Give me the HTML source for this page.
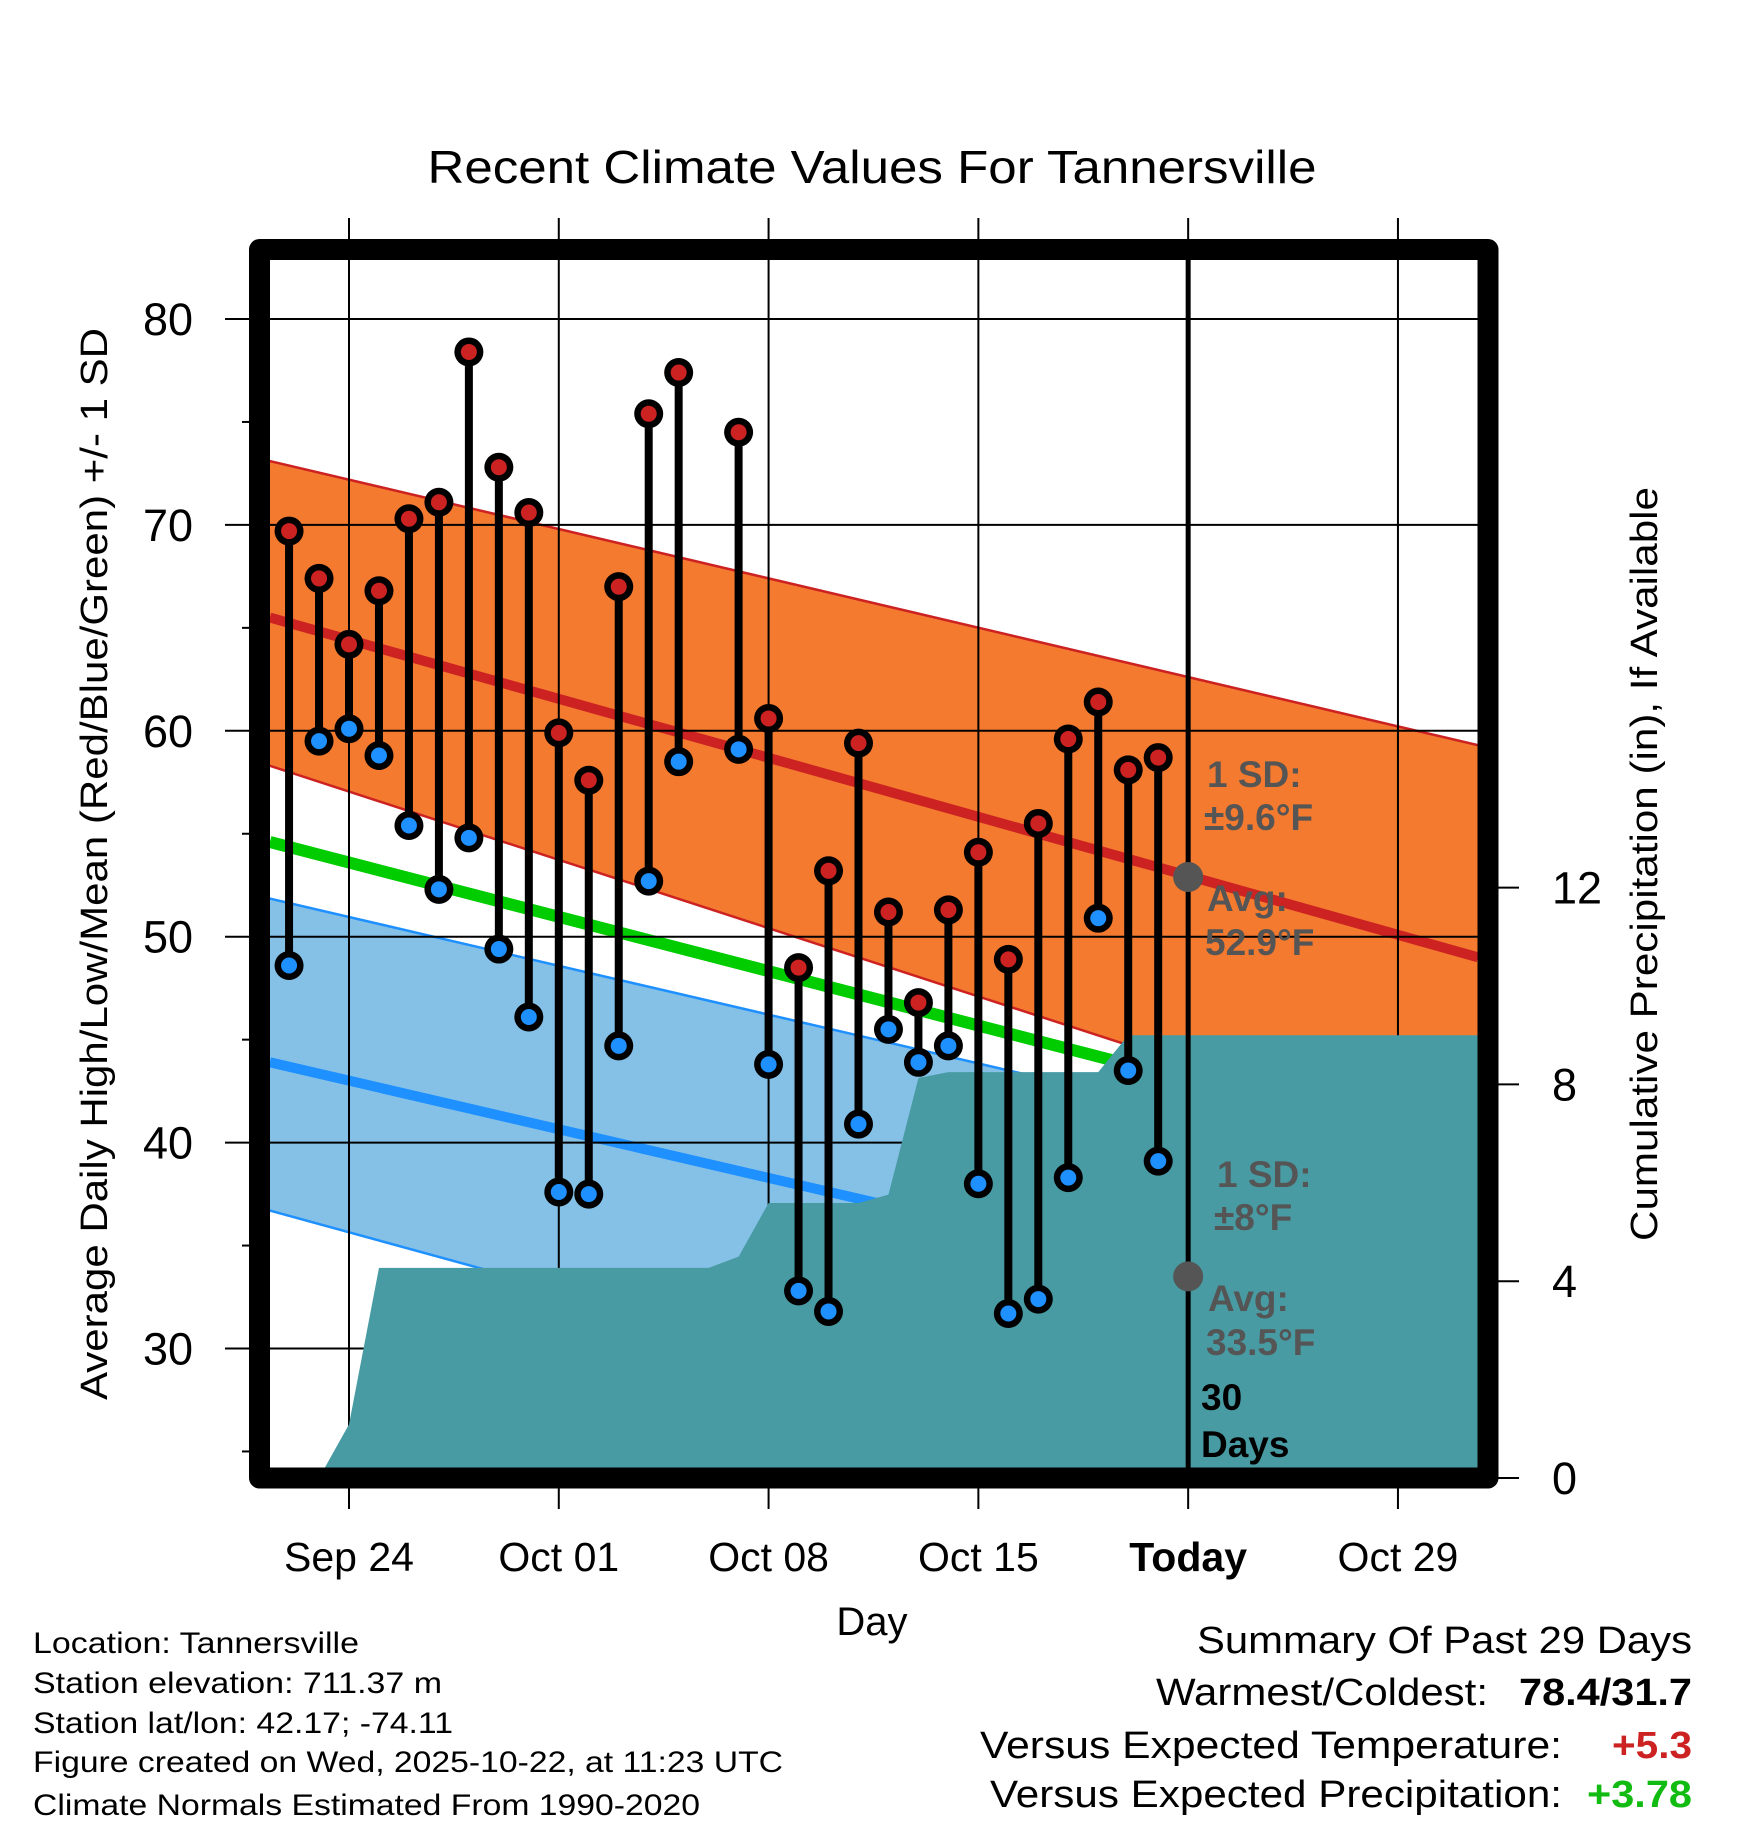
<!DOCTYPE html>
<html><head><meta charset="utf-8"><style>
html,body{margin:0;padding:0;background:#fff;}
svg{display:block;font-family:"Liberation Sans",Arial,sans-serif;}
</style></head><body>
<svg id="chart" width="1748" height="1828" viewBox="0 0 1748 1828" xmlns="http://www.w3.org/2000/svg">
<defs><clipPath id="plotclip"><rect x="270" y="260" width="1208" height="1208"/></clipPath></defs>
<g id="bands" clip-path="url(#plotclip)"></g>
<g id="grid"></g>
<g id="precip" clip-path="url(#plotclip)"></g>
<g id="marks"></g>
<rect x="259.5" y="249.5" width="1228.5" height="1228.5" fill="none" stroke="#000" stroke-width="21" stroke-linejoin="round"/>
<g id="labels"></g>
<text x="872" y="183" font-size="46" text-anchor="middle" textLength="889" lengthAdjust="spacingAndGlyphs">Recent Climate Values For Tannersville</text>
<text x="872" y="1635" font-size="40" text-anchor="middle">Day</text>
<text transform="translate(107,864) rotate(-90)" font-size="38" text-anchor="middle" textLength="1072" lengthAdjust="spacingAndGlyphs">Average Daily High/Low/Mean (Red/Blue/Green) +/- 1 SD</text>
<text transform="translate(1657,864) rotate(-90)" font-size="38" text-anchor="middle" textLength="754" lengthAdjust="spacingAndGlyphs">Cumulative Precipitation (in), If Available</text>
<g font-weight="bold" font-size="37" fill="#555">
<text x="1207" y="787">1 SD:</text><text x="1204" y="830">±9.6°F</text>
<text x="1207" y="911">Avg:</text><text x="1205" y="955">52.9°F</text></g>
<g font-weight="bold" font-size="37" fill="#555">
<text x="1217" y="1187">1 SD:</text><text x="1214" y="1230">±8°F</text>
<text x="1208" y="1311">Avg:</text><text x="1206" y="1355">33.5°F</text></g>
<g font-weight="bold" font-size="37" fill="#000">
<text x="1201" y="1410">30</text><text x="1201" y="1457">Days</text></g>
<g font-size="30" fill="#000">
<text x="33" y="1653" textLength="326" lengthAdjust="spacingAndGlyphs">Location: Tannersville</text>
<text x="33" y="1693" textLength="409" lengthAdjust="spacingAndGlyphs">Station elevation: 711.37 m</text>
<text x="33" y="1733" textLength="420" lengthAdjust="spacingAndGlyphs">Station lat/lon: 42.17; -74.11</text>
<text x="33" y="1772" textLength="750" lengthAdjust="spacingAndGlyphs">Figure created on Wed, 2025-10-22, at 11:23 UTC</text>
<text x="33" y="1815" textLength="667" lengthAdjust="spacingAndGlyphs">Climate Normals Estimated From 1990-2020</text></g>
<g font-size="38" fill="#000">
<text x="1692" y="1653" text-anchor="end" textLength="495" lengthAdjust="spacingAndGlyphs">Summary Of Past 29 Days</text>
<text x="1488" y="1705" text-anchor="end" textLength="332" lengthAdjust="spacingAndGlyphs">Warmest/Coldest:</text>
<text x="1692" y="1705" text-anchor="end" font-weight="bold" textLength="173" lengthAdjust="spacingAndGlyphs">78.4/31.7</text>
<text x="1562" y="1758" text-anchor="end" textLength="582" lengthAdjust="spacingAndGlyphs">Versus Expected Temperature:</text>
<text x="1692" y="1758" text-anchor="end" font-weight="bold" fill="#cc2222" textLength="80" lengthAdjust="spacingAndGlyphs">+5.3</text>
<text x="1562" y="1807" text-anchor="end" textLength="572" lengthAdjust="spacingAndGlyphs">Versus Expected Precipitation:</text>
<text x="1692" y="1807" text-anchor="end" font-weight="bold" fill="#11bb11" textLength="105" lengthAdjust="spacingAndGlyphs">+3.78</text></g>
</svg>
<script>
// day index = days after Sep 24
const obsDays = [-2,-1,0,1,2,3,4,5,6,7,8,9,10,11,12,13,14,15,16,17,18,19,20,21,22,23,24,25,26,27];
const highs = [69.7,67.4,64.2,66.8,70.3,71.1,78.4,72.8,70.6,59.9,57.6,67.0,75.4,77.4,null,74.5,60.6,48.5,53.2,59.4,51.2,46.8,51.3,54.1,48.9,55.5,59.6,61.4,58.1,58.7];
const lows = [48.6,59.5,60.1,58.8,55.4,52.3,54.8,49.4,46.1,37.6,37.5,44.7,52.7,58.5,null,59.1,43.8,32.8,31.8,40.9,45.5,43.9,44.7,38.0,31.7,32.4,38.3,50.9,43.5,39.1];
const precip = [0,0,1.09,4.27,4.27,4.27,4.27,4.27,4.27,4.27,4.27,4.27,4.27,4.27,4.27,4.5,5.59,5.59,5.59,5.59,5.76,8.13,8.25,8.25,8.25,8.25,8.25,8.25,9.0,9.0];
const normDays = [-2.64, 37.67];
const normHighUpper = [73.1, 59.3];
const normHigh = [65.5, 49.0];
const normHighLower = [58.3, 39.2];
const normMean = [54.6, 39.4];
const normLowUpper = [51.85, 38.2];
const normLow = [43.9, 30.3];
const normLowLower = [36.7, 20.6];
const tempTicks = [30,40,50,60,70,80];
const tempMinor = [25,35,45,55,65,75];
const precipTicks = [0,4,8,12];
const dateTickDays = [0,7,14,21,28,35];
const dateTickLabels = ["Sep 24","Oct 01","Oct 08","Oct 15","Today","Oct 29"];
const todayDay = 28;
const todayHighAvg = 52.9, todayLowAvg = 33.5;

const NS="http://www.w3.org/2000/svg";
const X = d => 349 + d*29.97;
const Y = t => 319 + (80 - t)*20.59;
const P = p => 1478 - p*49.2;
function mk(tag, parent, attrs){const e=document.createElementNS(NS,tag);for(const k in attrs)e.setAttribute(k,attrs[k]);parent.appendChild(e);return e;}
const bands=document.getElementById('bands'), grid=document.getElementById('grid'), pr=document.getElementById('precip'), marks=document.getElementById('marks'), labels=document.getElementById('labels');

function band(up, lo, fill, name){
  const pts=[];normDays.forEach((d,i)=>pts.push(X(d)+','+Y(up[i])));
  for(let i=normDays.length-1;i>=0;i--)pts.push(X(normDays[i])+','+Y(lo[i]));
  const e=mk('polygon',bands,{points:pts.join(' '),fill:fill});
  
  
}
function line(vals, color, w, name){
  const e=mk('polyline',bands,{points:normDays.map((d,i)=>X(d)+','+Y(vals[i])).join(' '),fill:'none',stroke:color,'stroke-width':w});
  
  
}
band(normHighUpper, normHighLower, '#f47a2f', 'high-sd-band');
band(normLowUpper, normLowLower, '#85c1e7', 'low-sd-band');
line(normHighUpper,'#cc2222',2.5,'high-upper-edge');
line(normHighLower,'#cc2222',2.5,'high-lower-edge');
line(normLowUpper,'#1e90ff',2.5,'low-upper-edge');
line(normLowLower,'#1e90ff',2.5,'low-lower-edge');
line(normHigh,'#cc2222',10,'normal-high-line');
line(normMean,'#00cc00',12,'normal-mean-line');
line(normLow,'#1e90ff',10,'normal-low-line');

tempTicks.forEach(t=>{
  const g=mk('line',grid,{x1:225,x2:1478,y1:Y(t),y2:Y(t),stroke:'#000','stroke-width':2});
  
  
  const l=mk('text',labels,{x:193,y:Y(t)+16,'font-size':45,'text-anchor':'end'});l.textContent=t;
  
  
});
tempMinor.forEach(t=>{
  const g=mk('line',grid,{x1:242,x2:250,y1:Y(t),y2:Y(t),stroke:'#000','stroke-width':2});
  
  
});
dateTickDays.forEach((d,i)=>{
  const g=mk('line',grid,{x1:X(d),x2:X(d),y1:218,y2:1509,stroke:'#000','stroke-width':2});
  
  
  const l=mk('text',labels,{x:X(d),y:1571,'font-size':41,'text-anchor':'middle'});l.textContent=dateTickLabels[i];
  if(d===todayDay) l.setAttribute('font-weight','bold');
  
  
});
precipTicks.forEach(p=>{
  const g=mk('line',grid,{x1:1498,x2:1519,y1:P(p),y2:P(p),stroke:'#000','stroke-width':2});
  
  
  const l=mk('text',labels,{x:1552,y:P(p)+16,'font-size':45});l.textContent=p;
  
  
});

// precipitation area
(function(){
  const pts=[X(obsDays[0])+','+P(0)];
  obsDays.forEach((d,i)=>pts.push(X(d)+','+P(precip[i])));
  pts.push(X(normDays[1])+','+P(precip[precip.length-1]));
  pts.push(X(normDays[1])+','+P(0));
  pts.push(X(obsDays[0])+','+1480);
  const e=mk('polygon',pr,{points:pts.join(' '),fill:'#489ba3'});
  
  
})();

const tl=mk('line',marks,{x1:X(todayDay),x2:X(todayDay),y1:260,y2:1468,stroke:'#000','stroke-width':5});


[todayHighAvg,todayLowAvg].forEach(v=>{
  const c=mk('circle',marks,{cx:X(todayDay),cy:Y(v),r:15,fill:'#555'});
  
  
});

obsDays.forEach((d,i)=>{
  if(highs[i]==null) return;
  const s=mk('line',marks,{x1:X(d),x2:X(d),y1:Y(highs[i]),y2:Y(lows[i]),stroke:'#000','stroke-width':8});
  
  
  [[highs[i],'#cc2222','daily-high-marker'],[lows[i],'#1e90ff','daily-low-marker']].forEach(([v,c,n])=>{
    const o=mk('circle',marks,{cx:X(d),cy:Y(v),r:14.5,fill:'#000'});
    
    
    const inn=mk('circle',marks,{cx:X(d),cy:Y(v),r:8,fill:c});
    
    
  });
});
</script>
</body></html>
